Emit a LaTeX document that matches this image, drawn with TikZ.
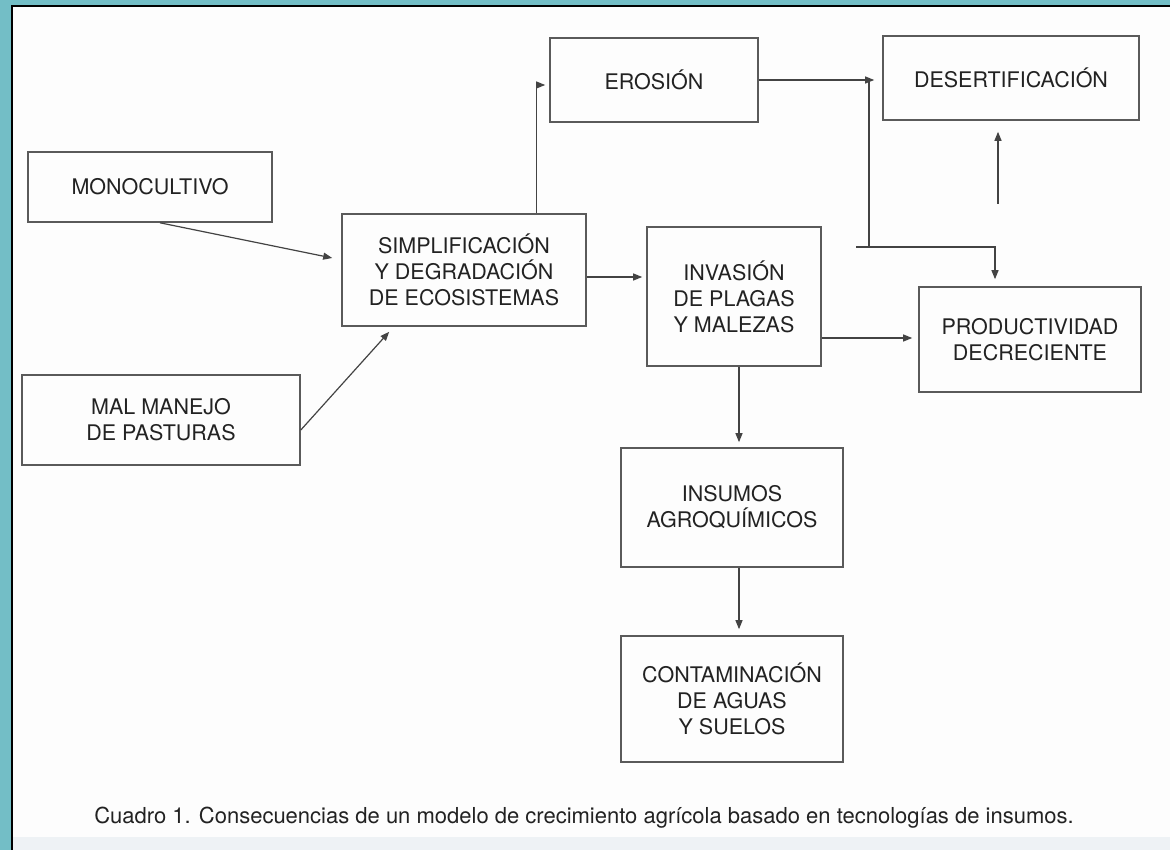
\documentclass[tikz,border=0pt]{standalone}
\usepackage{fontspec}
\setmainfont{TeX Gyre Heros}
\usetikzlibrary{arrows.meta,calc}
\definecolor{teal1}{RGB}{115,190,198}
\definecolor{txt}{RGB}{34,34,34}
\definecolor{boxline}{RGB}{90,90,90}
\definecolor{paper}{RGB}{253,253,253}
\definecolor{band}{RGB}{238,242,245}
\tikzset{
  box/.style={draw=boxline, line width=1.6pt, fill=none, inner sep=0pt, align=center,
    text=txt, font=\fontsize{21.5}{26}\selectfont},
  arr/.style={draw=txt!85, line width=1.2pt, -{Triangle[length=9pt,width=7pt]}},
  ln/.style={draw=txt!85, line width=1.2pt},
}
\begin{document}
\begin{tikzpicture}[x=1pt,y=-1pt]
\useasboundingbox (0,0) rectangle (1170,850);
% background
\fill[teal1] (0,0) rectangle (1170,850);
\fill[paper] (12,6) rectangle (1170,850);
\fill[band] (12,837) rectangle (1170,850);
\draw[black, line width=2pt] (12,850) -- (12,6) -- (1170,6);

% boxes
\node[box, minimum width=244pt, minimum height=70pt] (mono) at (150,187) {MONOCULTIVO};
\node[box, minimum width=278pt, minimum height=90pt] (mal) at (161,420) {MAL MANEJO\\DE PASTURAS};
\node[box, minimum width=244pt, minimum height=112pt] (simp) at (464,270) {SIMPLIFICACIÓN\\Y DEGRADACIÓN\\DE ECOSISTEMAS};
\node[box, minimum width=208pt, minimum height=84pt] (eros) at (654,80) {EROSIÓN};
\node[box, minimum width=256pt, minimum height=84pt] (des) at (1011,78) {DESERTIFICACIÓN};
\node[box, minimum width=174pt, minimum height=139pt] (inv) at (734,296.5) {INVASIÓN\\DE PLAGAS\\Y MALEZAS};
\node[box, minimum width=222pt, minimum height=105pt] (prod) at (1030,339.5) {PRODUCTIVIDAD\\DECRECIENTE};
\node[box, minimum width=222pt, minimum height=119pt] (ins) at (732,507.5) {INSUMOS\\AGROQUÍMICOS};
\node[box, minimum width=222pt, minimum height=126pt] (cont) at (732,699) {CONTAMINACIÓN\\DE AGUAS\\Y SUELOS};

% caption
\node[text=txt, font=\fontsize{22}{26}\selectfont, inner sep=0pt] (cap) at (584,818)
  {Cuadro 1. Consecuencias de un modelo de crecimiento agrícola basado en tecnologías de insumos.};

% helper coordinates
\coordinate (j1) at (869,80);
\coordinate (j2) at (869,247);
\coordinate (st) at (856,247);
\coordinate (p0) at (998,204);

% connectors
\draw[arr] ([xshift=10pt]mono.south) -- ([xshift=-9pt,yshift=12pt]simp.west);
\draw[arr] ([yshift=-10pt]mal.east) -- ([xshift=48pt,yshift=-5pt]simp.south west);
\draw[arr, shorten >=4pt] ([xshift=-50pt]simp.north east) |- ([yshift=-5pt]eros.west);
\draw[arr, shorten >=4pt] ([yshift=-7pt]simp.east) -- ([yshift=-7pt]simp.east -| inv.west);
\draw[arr, shorten >=8pt] (eros.east) -- (eros.east -| des.west);
\draw[ln] (j1) -- (j2);
\draw[arr, shorten >=7pt] (st) -| ([xshift=-35pt]prod.north);
\draw[arr, shorten >=11pt] (p0) -- ([xshift=-13pt]des.south);
\draw[arr, shorten >=6pt] ([yshift=-41.5pt]inv.east) -- ([yshift=-41.5pt]inv.east -| prod.west);
\draw[arr, shorten >=5pt] ([xshift=5pt]inv.south) -- ([xshift=5pt]inv.south |- ins.north);
\draw[arr, shorten >=6pt] ([xshift=7pt]ins.south) -- ([xshift=7pt]ins.south |- cont.north);
\end{tikzpicture}
\end{document}
